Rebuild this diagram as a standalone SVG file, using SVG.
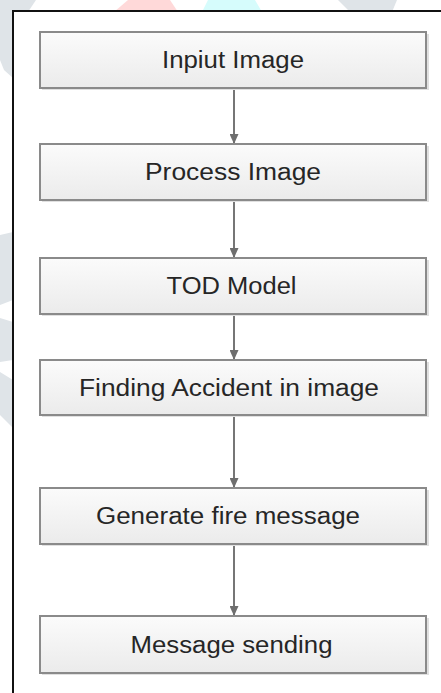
<svg xmlns="http://www.w3.org/2000/svg" width="441" height="693" viewBox="0 0 441 693">
  <defs>
    <linearGradient id="boxFill" x1="0" y1="0" x2="0" y2="1">
      <stop offset="0" stop-color="#fbfbfb"/>
      <stop offset="1" stop-color="#ebebeb"/>
    </linearGradient>
    <marker id="arrow" viewBox="0 0 10 9" refX="10" refY="4.5" markerWidth="10" markerHeight="9" markerUnits="userSpaceOnUse" orient="auto">
      <path d="M0,0 L10,4.5 L0,9 Z" fill="#6e6e6e"/>
    </marker>
  </defs>
  <style>
    .shadow { fill: #e0e0e0; }
    .box { fill: url(#boxFill); stroke: #8a8a8a; stroke-width: 2; }
    .label { font-family: "Liberation Sans", Arial, sans-serif; font-size: 23px; fill: #262626; text-anchor: middle; }
    .link { fill: none; stroke: #767676; stroke-width: 2; marker-end: url(#arrow); }
  </style>

  <!-- page background with faint emblem showing around the frame -->
  <rect x="0" y="0" width="441" height="693" fill="#ffffff"/>
  <g id="emblem">
    <path d="M0,0 L36,0 L28,12 L0,12 Z" fill="#dfe4e8"/>
    <path d="M0,12 L13,12 L13,78 L4,70 L0,60 Z" fill="#dfe4e8"/>
    <path d="M128,0 L170,0 L178,12 L114,12 Z" fill="#ffd9d9"/>
    <path d="M208,0 L255,0 L262,12 L202,12 Z" fill="#d6fcfc"/>
    <path d="M338,0 L397,0 L392,12 L350,12 Z" fill="#dfe4e8"/>
    <path d="M0,235 L13,232 L13,300 L0,305 Z" fill="#dfe4e8"/>
    <path d="M0,318 L13,322 L13,360 L0,362 Z" fill="#dfe4e8"/>
    <path d="M0,372 L13,380 L13,428 L0,415 Z" fill="#dfe4e8"/>
  </g>

  <!-- outer frame, running past the right and bottom edges -->
  <rect id="frame" x="13" y="11" width="440" height="700" fill="#ffffff" stroke="#111111" stroke-width="2"/>

  <g id="connectors">
    <line class="link" x1="234" y1="88" x2="234" y2="144"/>
    <line class="link" x1="234" y1="200" x2="234" y2="258"/>
    <line class="link" x1="234" y1="314" x2="234" y2="360"/>
    <line class="link" x1="234" y1="415" x2="234" y2="488"/>
    <line class="link" x1="234" y1="544" x2="234" y2="616"/>
  </g>

  <g id="input-image">
    <rect class="shadow" x="42" y="34" width="387" height="56"/>
    <rect class="box" x="40" y="32" width="386" height="56"/>
    <text class="label" x="233" y="68" textLength="142" lengthAdjust="spacingAndGlyphs">Inpiut Image</text>
  </g>

  <g id="process-image">
    <rect class="shadow" x="42" y="146" width="387" height="56"/>
    <rect class="box" x="40" y="144" width="386" height="56"/>
    <text class="label" x="233" y="180" textLength="176" lengthAdjust="spacingAndGlyphs">Process Image</text>
  </g>

  <g id="tod-model">
    <rect class="shadow" x="42" y="260" width="387" height="56"/>
    <rect class="box" x="40" y="258" width="386" height="56"/>
    <text class="label" x="231.5" y="294" textLength="130" lengthAdjust="spacingAndGlyphs">TOD Model</text>
  </g>

  <g id="finding-accident">
    <rect class="shadow" x="42" y="362" width="387" height="55"/>
    <rect class="box" x="40" y="360" width="386" height="55"/>
    <text class="label" x="229" y="396" textLength="300" lengthAdjust="spacingAndGlyphs">Finding Accident in image</text>
  </g>

  <g id="generate-message">
    <rect class="shadow" x="42" y="490" width="387" height="56"/>
    <rect class="box" x="40" y="488" width="386" height="56"/>
    <text class="label" x="228" y="524" textLength="264" lengthAdjust="spacingAndGlyphs">Generate fire message</text>
  </g>

  <g id="message-sending">
    <rect class="shadow" x="42" y="618" width="387" height="57"/>
    <rect class="box" x="40" y="616" width="386" height="57"/>
    <text class="label" x="231.5" y="653" textLength="202" lengthAdjust="spacingAndGlyphs">Message sending</text>
  </g>
</svg>
